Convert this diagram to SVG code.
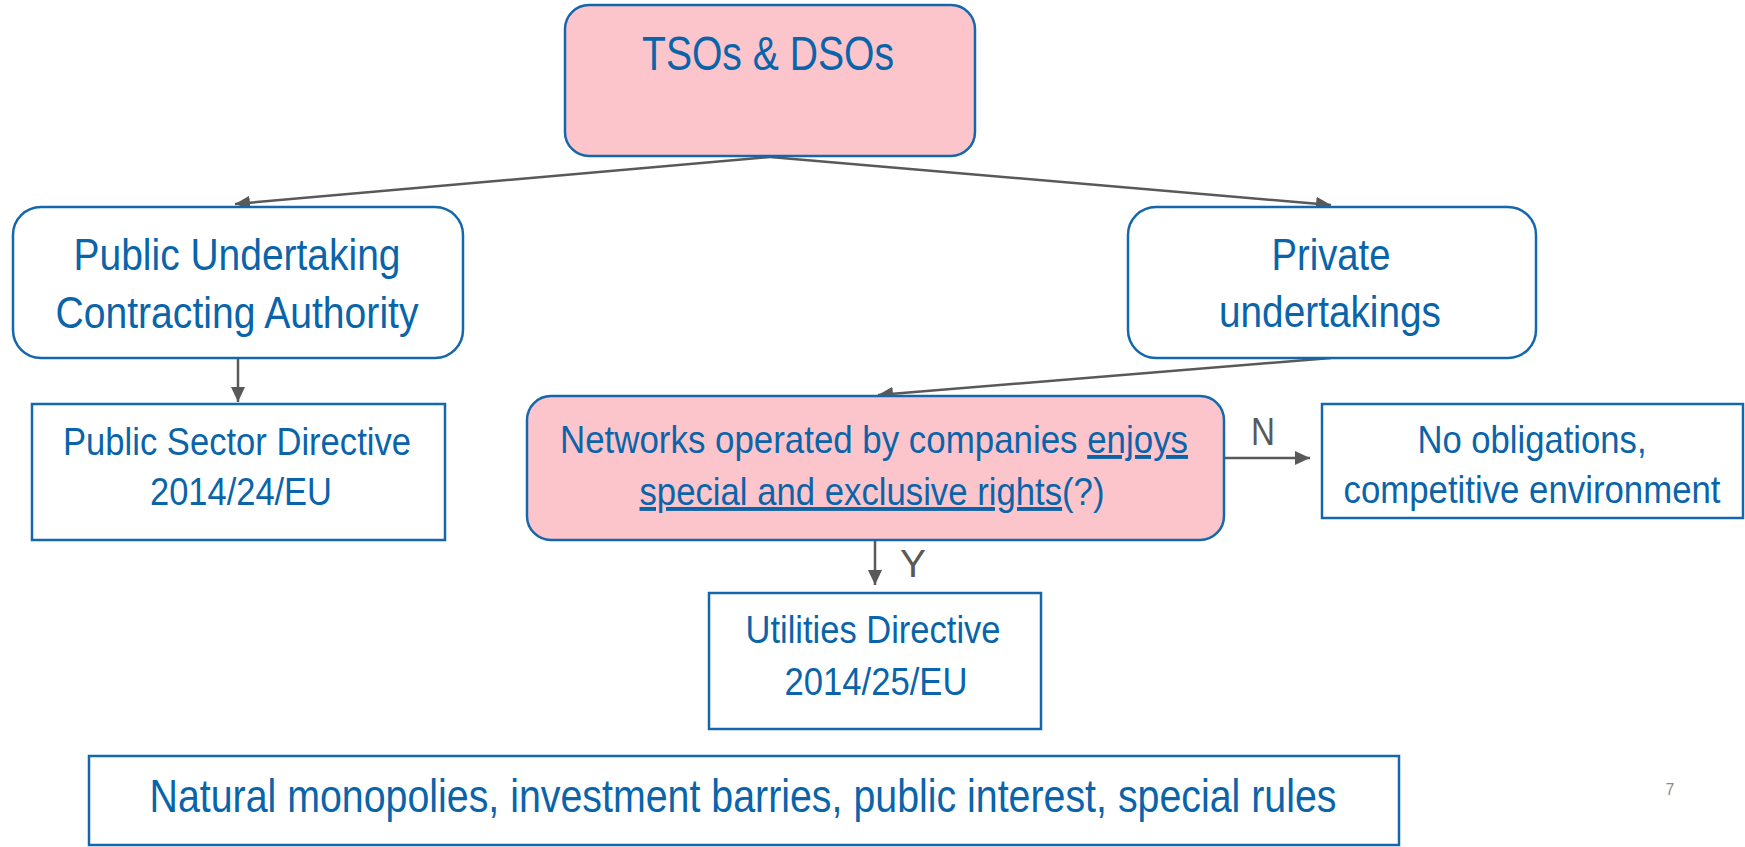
<svg xmlns="http://www.w3.org/2000/svg" width="1745" height="847" viewBox="0 0 1745 847">
  <style>
    .box { fill: #ffffff; stroke: #1467AC; stroke-width: 2.5; }
    .pink { fill: #FCC5CB; stroke: #1467AC; stroke-width: 2.5; }
    .t { font-family: "Liberation Sans", Arial, sans-serif; fill: #0A64AA; text-anchor: middle; }
    .lab { font-family: "Liberation Sans", Arial, sans-serif; fill: #595959; text-anchor: middle; }
    .conn { stroke: #595959; stroke-width: 2.5; fill: none; }
    .u { text-decoration: underline; }
  </style>
  <defs>
    <marker id="ah" markerUnits="userSpaceOnUse" markerWidth="15" markerHeight="14" refX="15" refY="7" orient="auto">
      <path d="M0,0 L15,7 L0,14 z" fill="#595959"/>
    </marker>
  </defs>
  <rect width="1745" height="847" fill="#ffffff"/>

  <g id="connectors">
    <line class="conn" x1="770" y1="157" x2="235" y2="204" marker-end="url(#ah)"/>
    <line class="conn" x1="770" y1="157" x2="1331" y2="205" marker-end="url(#ah)"/>
    <line class="conn" x1="238" y1="358" x2="238" y2="402" marker-end="url(#ah)"/>
    <line class="conn" x1="1331" y1="358" x2="878" y2="395" marker-end="url(#ah)"/>
    <line class="conn" x1="875" y1="540" x2="875" y2="585" marker-end="url(#ah)"/>
    <line class="conn" x1="1224" y1="458" x2="1310" y2="458" marker-end="url(#ah)"/>
    <text class="lab" x="913" y="577" font-size="39" textLength="26" lengthAdjust="spacingAndGlyphs">Y</text>
    <text class="lab" x="1263" y="445" font-size="39" textLength="24" lengthAdjust="spacingAndGlyphs">N</text>
  </g>

  <g id="tsos">
    <rect class="pink" x="565" y="5" width="410" height="151" rx="24"/>
    <text class="t" x="768" y="70" font-size="48" textLength="252" lengthAdjust="spacingAndGlyphs">TSOs &amp; DSOs</text>
  </g>

  <g id="public-undertaking">
    <rect class="box" x="13" y="207" width="450" height="151" rx="28"/>
    <text class="t" x="237" y="270" font-size="44" textLength="327" lengthAdjust="spacingAndGlyphs">Public Undertaking</text>
    <text class="t" x="237" y="328" font-size="44" textLength="363" lengthAdjust="spacingAndGlyphs">Contracting Authority</text>
  </g>

  <g id="private">
    <rect class="box" x="1128" y="207" width="408" height="151" rx="28"/>
    <text class="t" x="1331" y="270" font-size="44" textLength="119" lengthAdjust="spacingAndGlyphs">Private</text>
    <text class="t" x="1330" y="327" font-size="44" textLength="222" lengthAdjust="spacingAndGlyphs">undertakings</text>
  </g>

  <g id="public-sector">
    <rect class="box" x="32" y="404" width="413" height="136"/>
    <text class="t" x="237" y="455" font-size="39" textLength="348" lengthAdjust="spacingAndGlyphs">Public Sector Directive</text>
    <text class="t" x="241" y="505" font-size="39" textLength="182" lengthAdjust="spacingAndGlyphs">2014/24/EU</text>
  </g>

  <g id="networks">
    <rect class="pink" x="527" y="396" width="697" height="144" rx="24"/>
    <text class="t" x="874" y="453" font-size="39" textLength="628" lengthAdjust="spacingAndGlyphs">Networks operated by companies <tspan class="u">enjoys</tspan></text>
    <text class="t" x="872" y="505" font-size="39" textLength="465" lengthAdjust="spacingAndGlyphs"><tspan class="u">special and exclusive rights</tspan>(?)</text>
  </g>

  <g id="no-obligations">
    <rect class="box" x="1322" y="404" width="421" height="114"/>
    <text class="t" x="1532" y="453" font-size="39" textLength="229" lengthAdjust="spacingAndGlyphs">No obligations,</text>
    <text class="t" x="1532" y="503" font-size="39" textLength="377" lengthAdjust="spacingAndGlyphs">competitive environment</text>
  </g>

  <g id="utilities">
    <rect class="box" x="709" y="593" width="332" height="136"/>
    <text class="t" x="873" y="643" font-size="39" textLength="255" lengthAdjust="spacingAndGlyphs">Utilities Directive</text>
    <text class="t" x="876" y="695" font-size="39" textLength="183" lengthAdjust="spacingAndGlyphs">2014/25/EU</text>
  </g>

  <g id="bottom">
    <rect class="box" x="89" y="756" width="1310" height="89"/>
    <text class="t" x="743" y="812" font-size="46" textLength="1187" lengthAdjust="spacingAndGlyphs">Natural monopolies, investment barries, public interest, special rules</text>
  </g>

  <text x="1670" y="795" font-family="Liberation Sans, Arial, sans-serif" font-size="16" fill="#8c8c8c" text-anchor="middle">7</text>
</svg>
